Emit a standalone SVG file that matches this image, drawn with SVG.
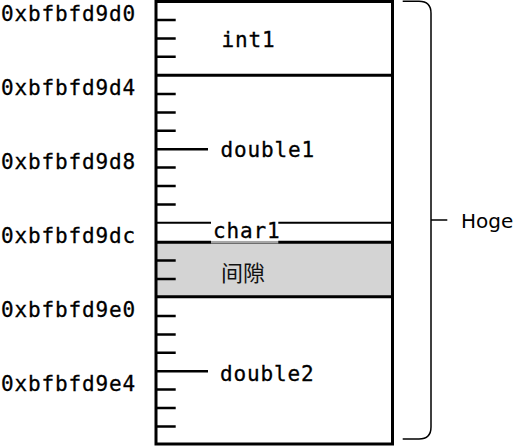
<svg xmlns="http://www.w3.org/2000/svg" width="515" height="447" viewBox="0 0 515 447">
<style>
.addr{font-family:"DejaVu Sans Mono","Liberation Mono",monospace;font-size:21px;letter-spacing:0.85px;fill:#000;stroke:#000;stroke-width:0.3}
.lbl{font-family:"DejaVu Sans Mono","Liberation Mono",monospace;font-size:21px;letter-spacing:0.85px;fill:#000;stroke:#000;stroke-width:0.3}
.cjk{font-family:"Noto Sans CJK JP","Noto Sans CJK SC",sans-serif;font-size:22px;fill:#111}
.hoge{font-family:"DejaVu Sans","Liberation Sans",sans-serif;font-size:20px;fill:#000}
.tick{stroke:#000;stroke-width:2.5;fill:none}
.div{stroke:#000;stroke-width:3;fill:none}
.brace{stroke:#000;stroke-width:1.5;fill:none}
</style>
<rect width="515" height="447" fill="#fff"/>
<g id="addresses">
<text class="addr" x="1" y="21">0xbfbfd9d0</text>
<text class="addr" x="1" y="95">0xbfbfd9d4</text>
<text class="addr" x="1" y="169">0xbfbfd9d8</text>
<text class="addr" x="1" y="243">0xbfbfd9dc</text>
<text class="addr" x="1" y="317">0xbfbfd9e0</text>
<text class="addr" x="1" y="391">0xbfbfd9e4</text>
</g>
<g id="int1">
<rect x="156" y="1.5" width="236.5" height="73.8" fill="#fff"/>
<text class="lbl" x="221.5" y="47.3">int1</text>
</g>
<g id="double1">
<rect x="156" y="75.3" width="236.5" height="147.4" fill="#fff"/>
<text class="lbl" x="220.5" y="156.7">double1</text>
</g>
<g id="gap">
<rect x="156" y="242.2" width="236.5" height="54.6" fill="#d4d4d4"/>
<text class="cjk" x="221" y="281">间隙</text>
</g>
<g id="double2">
<rect x="156" y="296.8" width="236.5" height="147.2" fill="#fff"/>
<text class="lbl" x="220" y="381">double2</text>
</g>
<g id="connectors">
<path class="tick" d="M156 20H175.7M156 38.4H175.7M156 56.8H175.7M156 94H175.7M156 112.4H175.7M156 130.8H175.7M156 167.6H175.7M156 186H175.7M156 204.4H175.7M156 260.5H175.7M156 279H175.7M156 316H175.7M156 334.4H175.7M156 352.8H175.7M156 389.6H175.7M156 408H175.7M156 426.6H175.7"/>
<path class="tick" d="M156 149.3H208M156 371.2H208"/>
<path class="div" d="M156 75.3H392.5M156 242.2H392.5M156 296.8H392.5"/>
<path stroke="#000" stroke-width="2" fill="none" d="M156 222.7H392.5"/>
<rect x="156" y="1.5" width="236.5" height="442.5" fill="none" stroke="#000" stroke-width="3"/>
</g>
<g id="char1">
<rect x="211" y="220.5" width="67.3" height="20.4" fill="#fff"/>
<path d="M211 242.2H278.3" stroke="#a6a6a6" stroke-width="2.6"/>
<text class="lbl" x="213" y="238.3">char1</text>
</g>
<g id="hoge">
<path class="brace" d="M402.7 1.2H419Q431 1.2 431 13.2V427Q431 439 419 439H402.7M431 220H447.3"/>
<text class="hoge" x="461" y="228.3">Hoge</text>
</g>
</svg>
